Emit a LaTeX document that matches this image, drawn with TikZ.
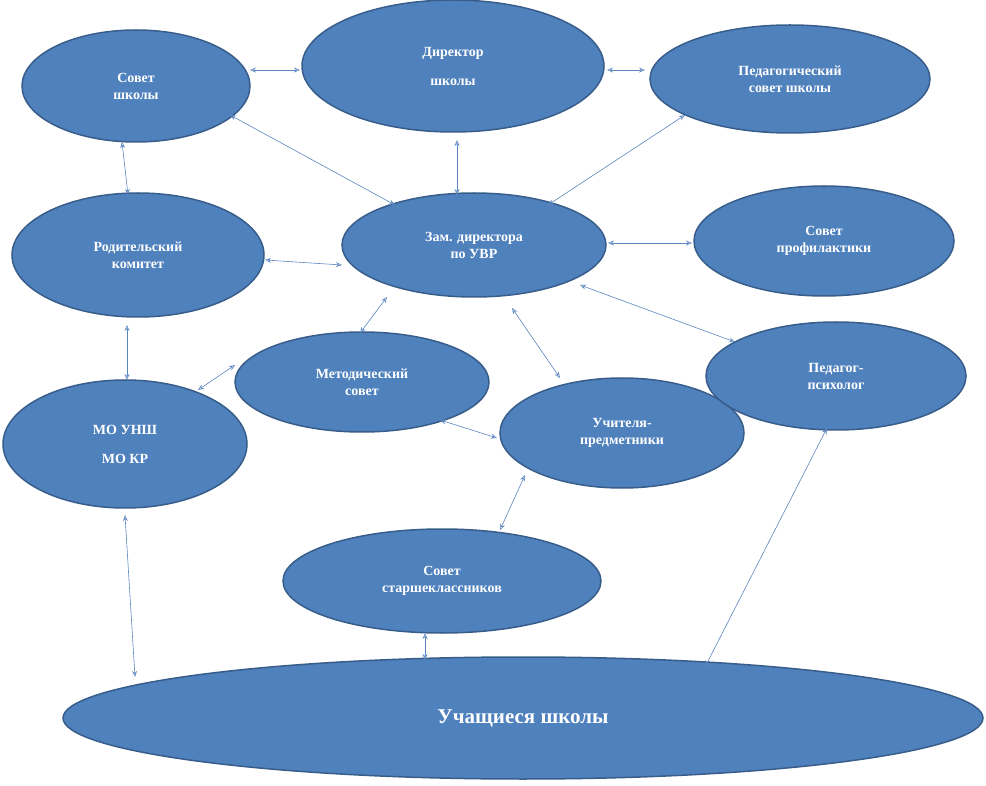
\documentclass[tikz,border=0pt]{standalone}
\usepackage{fontspec}
\setmainfont{Liberation Serif}
\usetikzlibrary{shapes.geometric,arrows.meta}
\definecolor{efill}{HTML}{4F81BD}
\definecolor{eline}{HTML}{385D8A}
\definecolor{aline}{HTML}{5B86C0}
\begin{document}
\begin{tikzpicture}[x=1pt,y=-1pt,
  el/.style={ellipse,draw=eline,line width=1.5pt,fill=efill,text=white,font=\bfseries\fontsize{14}{17}\selectfont,align=center,inner sep=0pt},
  conn/.style={draw=aline,line width=0.6pt,{Stealth[length=6pt,width=5pt,open]}-{Stealth[length=6pt,width=5pt,open]}}]
\useasboundingbox (0,0) rectangle (986,786);
\node[el,minimum width=228,minimum height=112] (ss) at (136,86) {Совет\\школы};
\node[el,minimum width=302,minimum height=132] (dir) at (453,66) {Директор\\[12pt]школы};
\node[el,minimum width=280,minimum height=108] (ps) at (790,79) {Педагогический\\совет школы};
\node[el,minimum width=252,minimum height=124] (rk) at (138,255) {Родительский\\комитет};
\node[el,minimum width=264,minimum height=104] (zam) at (474,245) {Зам. директора\\по УВР};
\node[el,minimum width=260,minimum height=110] (sp) at (824,241) {Совет\\профилактики};
\node[el,minimum width=254,minimum height=100] (ms) at (362,382) {Методический\\совет};
\node[el,minimum width=244,minimum height=128] (mo) at (125,444) {МО УНШ\\[12pt]МО КР};
\node[el,minimum width=244,minimum height=110] (up) at (622,433) {Учителя-\\предметники};
\node[el,minimum width=260,minimum height=108] (pp) at (836,376) {Педагог-\\психолог};
\node[el,minimum width=318,minimum height=104] (sst) at (442,581) {Совет\\старшеклассников};
\node[el,minimum width=920,minimum height=122,font=\bfseries\fontsize{21}{25}\selectfont] (uch) at (523,718) {Учащиеся школы};
\foreach \n/\a/\b in {
 1/{250,70}/{300,70}, 2/{607,70}/{645,70}, 3/{230,115}/{395,205},
 4/{457,140}/{457,195}, 5/{685,115}/{548,205}, 6/{122,142}/{128,195},
 7/{265,260}/{342,265}, 8/{608,243}/{692,243}, 9/{127,325}/{127,380},
 10/{387,297}/{360,333}, 11/{235,365}/{198,390}, 12/{512,308}/{560,378},
 13/{580,285}/{735,342}, 14/{440,420}/{497,438}, 15/{525,475}/{500,530},
 16/{425,633}/{425,660}, 17/{125,515}/{135,677}, 18/{827,428}/{705,667}}
 { \coordinate (p\n) at (\a); \coordinate (q\n) at (\b); \draw[conn] (p\n) -- (q\n); }
\end{tikzpicture}
\end{document}
